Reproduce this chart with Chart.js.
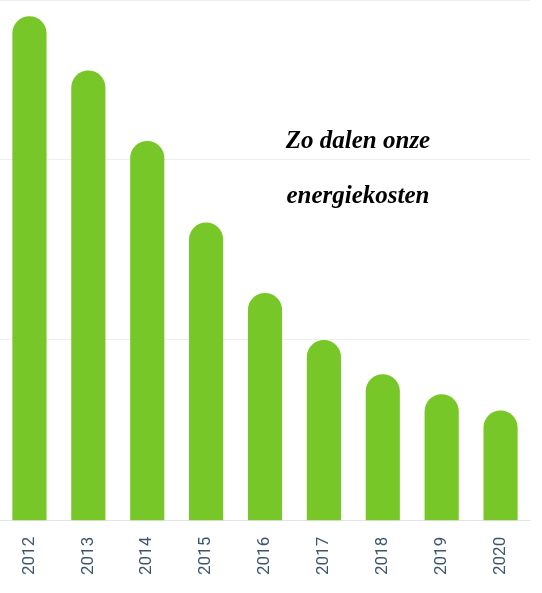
<!DOCTYPE html>
<html><head><meta charset="utf-8">
<script src="https://cdn.jsdelivr.net/npm/chart.js@4"></script>
<style>
html,body{margin:0;padding:0;background:#fff;}
#wrap{position:relative;width:542px;height:593px;}
#title{position:absolute;left:238px;top:112px;width:240px;text-align:center;font-family:"Liberation Serif",serif;font-style:italic;font-weight:bold;font-size:25px;line-height:55px;color:#000;}
</style></head><body>
<div id="wrap"><canvas id="c" width="542" height="593"></canvas>
<div id="title">Zo dalen onze<br>energiekosten</div></div>
<script>
const categories=["2012","2013","2014","2015","2016","2017","2018","2019","2020"];
const values=[279,249,210,165,126,100,81,70,61];
new Chart(document.getElementById('c'),{
type:'bar',
data:{labels:categories,datasets:[{data:values,backgroundColor:'#77c728',borderRadius:{topLeft:17,topRight:17},borderSkipped:'bottom',barPercentage:0.58,categoryPercentage:1}]},
options:{responsive:false,animation:false,
layout:{padding:{left:0,right:12,top:0,bottom:10}},
plugins:{legend:{display:false},tooltip:{enabled:false}},
scales:{
x:{grid:{display:false},border:{color:'#e4e4e4'},ticks:{color:'#3d5570',font:{family:'Roboto',size:17},minRotation:90,maxRotation:90,padding:8}},
y:{min:0,max:288,afterFit:s=>{s.width=0;},ticks:{display:false,stepSize:100},grid:{color:'#eeeeee',drawTicks:false},border:{display:false}}
}}
});
</script></body></html>
